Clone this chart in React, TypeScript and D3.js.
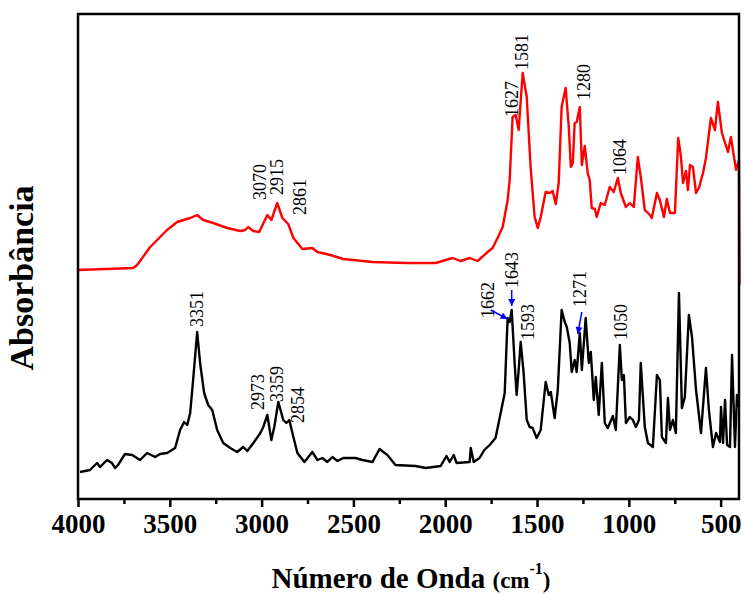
import React, { useEffect, useRef } from "react";
import * as d3 from "d3";

// espectro superior (vermelho): [número de onda, absorbância u.a.]
const redSpectrum: [number, number][] = [
  [4000, 0.458], [3700, 0.462], [3678, 0.468], [3607, 0.504], [3569, 0.518],
  [3515, 0.538], [3460, 0.554], [3389, 0.562], [3351, 0.568], [3318, 0.558],
  [3264, 0.552], [3187, 0.542], [3116, 0.536], [3089, 0.538], [3073, 0.544],
  [3045, 0.536], [3013, 0.534], [2969, 0.568], [2947, 0.558], [2915, 0.592],
  [2887, 0.562], [2855, 0.55], [2827, 0.522], [2778, 0.5], [2724, 0.502],
  [2696, 0.494], [2625, 0.488], [2555, 0.48], [2396, 0.474], [2216, 0.472],
  [2053, 0.472], [1960, 0.482], [1916, 0.476], [1867, 0.482], [1824, 0.476],
  [1769, 0.494], [1742, 0.502], [1715, 0.522], [1687, 0.544], [1660, 0.598],
  [1649, 0.638], [1633, 0.764], [1616, 0.768], [1600, 0.738], [1578, 0.852],
  [1556, 0.804], [1535, 0.664], [1513, 0.564], [1496, 0.542], [1480, 0.564],
  [1453, 0.614], [1431, 0.612], [1415, 0.616], [1398, 0.59], [1382, 0.632],
  [1366, 0.784], [1344, 0.822], [1327, 0.744], [1316, 0.664], [1305, 0.672],
  [1295, 0.752], [1284, 0.754], [1267, 0.784], [1256, 0.668], [1240, 0.706],
  [1224, 0.652], [1213, 0.638], [1202, 0.582], [1185, 0.58], [1175, 0.564],
  [1153, 0.592], [1131, 0.588], [1104, 0.624], [1082, 0.614], [1060, 0.642],
  [1044, 0.612], [1016, 0.584], [995, 0.592], [973, 0.584], [951, 0.684],
  [935, 0.644], [913, 0.578], [885, 0.568], [875, 0.562], [847, 0.612],
  [831, 0.598], [809, 0.564], [793, 0.6], [776, 0.572], [749, 0.572],
  [731, 0.722], [716, 0.684], [705, 0.632], [689, 0.656], [678, 0.618],
  [667, 0.668], [651, 0.664], [634, 0.612], [618, 0.622], [596, 0.652],
  [580, 0.682], [553, 0.762], [531, 0.738], [515, 0.794], [493, 0.732],
  [460, 0.694], [444, 0.724], [416, 0.658], [400, 0.678], [397, 0.428],
];

// espectro inferior (preto)
const blackSpectrum: [number, number][] = [
  [3989, 0.054], [3935, 0.058], [3896, 0.072], [3880, 0.064], [3842, 0.078],
  [3815, 0.072], [3798, 0.062], [3782, 0.068], [3744, 0.09], [3705, 0.088],
  [3662, 0.078], [3624, 0.092], [3580, 0.084], [3553, 0.09], [3515, 0.092],
  [3471, 0.102], [3444, 0.138], [3422, 0.154], [3405, 0.148], [3389, 0.172],
  [3373, 0.238], [3351, 0.334], [3335, 0.272], [3313, 0.212], [3291, 0.188],
  [3269, 0.178], [3242, 0.138], [3209, 0.112], [3171, 0.102], [3133, 0.094],
  [3100, 0.104], [3078, 0.096], [3045, 0.112], [3007, 0.132], [2991, 0.144],
  [2969, 0.168], [2947, 0.118], [2931, 0.144], [2909, 0.194], [2882, 0.158],
  [2865, 0.152], [2849, 0.158], [2827, 0.124], [2805, 0.092], [2767, 0.074],
  [2724, 0.094], [2696, 0.078], [2669, 0.082], [2642, 0.074], [2615, 0.084],
  [2587, 0.076], [2555, 0.082], [2489, 0.082], [2451, 0.078], [2396, 0.074],
  [2358, 0.1], [2315, 0.088], [2271, 0.068], [2162, 0.066], [2107, 0.062],
  [2025, 0.066], [1993, 0.086], [1976, 0.074], [1954, 0.088], [1938, 0.072],
  [1867, 0.074], [1861, 0.102], [1845, 0.074], [1813, 0.082], [1787, 0.098],
  [1758, 0.108], [1726, 0.122], [1698, 0.172], [1676, 0.212], [1665, 0.318],
  [1660, 0.362], [1649, 0.354], [1638, 0.378], [1622, 0.272], [1611, 0.208],
  [1600, 0.258], [1589, 0.314], [1573, 0.252], [1556, 0.158], [1540, 0.144],
  [1524, 0.142], [1502, 0.122], [1480, 0.138], [1453, 0.234], [1436, 0.208],
  [1425, 0.214], [1404, 0.162], [1387, 0.218], [1366, 0.378], [1349, 0.354],
  [1338, 0.344], [1322, 0.312], [1311, 0.254], [1295, 0.278], [1284, 0.254],
  [1267, 0.332], [1256, 0.258], [1235, 0.362], [1218, 0.272], [1207, 0.294],
  [1191, 0.198], [1180, 0.244], [1164, 0.168], [1147, 0.272], [1131, 0.152],
  [1115, 0.142], [1087, 0.166], [1071, 0.138], [1049, 0.308], [1038, 0.238],
  [1027, 0.248], [1016, 0.152], [995, 0.164], [978, 0.158], [962, 0.144],
  [945, 0.158], [935, 0.272], [913, 0.144], [896, 0.112], [869, 0.104],
  [847, 0.248], [831, 0.238], [820, 0.124], [798, 0.112], [787, 0.202],
  [776, 0.138], [760, 0.158], [744, 0.132], [727, 0.412], [711, 0.182],
  [695, 0.204], [673, 0.368], [656, 0.324], [634, 0.218], [607, 0.132],
  [580, 0.262], [564, 0.178], [542, 0.104], [525, 0.132], [504, 0.114],
  [498, 0.184], [487, 0.112], [476, 0.198], [465, 0.108], [449, 0.104],
  [438, 0.288], [422, 0.104], [411, 0.208], [400, 0.184],
];

const majorTicks = [4000, 3500, 3000, 2500, 2000, 1500, 1000, 500];
const minorTicks = [3750, 3250, 2750, 2250, 1750, 1250, 750];

// rótulos dos picos: texto, número de onda e altura onde começa o texto
const peakLabels: [string, number, number][] = [
  ["3070", 3007, 0.598], ["2915", 2915, 0.608], ["2861", 2789, 0.568],
  ["1627", 1638, 0.764], ["1581", 1584, 0.858], ["1280", 1245, 0.798],
  ["1064", 1049, 0.648],
  ["3351", 3351, 0.344], ["2973", 3018, 0.178], ["3359", 2915, 0.194],
  ["2854", 2805, 0.152], ["1662", 1769, 0.362], ["1643", 1638, 0.422],
  ["1593", 1551, 0.318], ["1271", 1267, 0.384], ["1050", 1044, 0.318],
];

// setas azuis: [wn início, abs início, wn ponta, abs ponta]
const arrows: [number, number, number, number][] = [
  [1638, 0.418, 1638, 0.386],
  [1753, 0.378, 1660, 0.36],
  [1256, 0.374, 1278, 0.33],
];

const width = 744;
const height = 595;
const left = 78;
const right = 739;
const top = 14;
const bottom = 499;
const font = "'Liberation Serif', 'Times New Roman', serif";

export default function App() {
  const axisRef = useRef<SVGGElement>(null);

  const x = d3.scaleLinear().domain([4000, 400]).range([left, right]);
  const y = d3.scaleLinear().domain([0, 0.97]).range([bottom, top]);

  const line = d3
    .line<[number, number]>()
    .x((d) => x(d[0]))
    .y((d) => y(d[1]));

  useEffect(() => {
    const g = d3.select(axisRef.current);
    g.selectAll("*").remove();
    const major = g.append("g").call(
      d3
        .axisBottom(x)
        .tickValues(majorTicks)
        .tickSize(8)
        .tickPadding(7)
        .tickFormat(d3.format("d"))
    );
    major.select(".domain").remove();
    major
      .selectAll("text")
      .attr("font-family", font)
      .attr("font-size", 27)
      .attr("font-weight", "bold")
      .attr("fill", "#000");
    major.selectAll("line").attr("stroke-width", 2.5);
    const minor = g
      .append("g")
      .call(d3.axisBottom(x).tickValues(minorTicks).tickSize(5).tickFormat(() => ""));
    minor.select(".domain").remove();
    minor.selectAll("line").attr("stroke-width", 2.5);
  }, []);

  return (
    <svg
      width={width}
      height={height}
      style={{ position: "absolute", left: 0, top: 0, background: "#fff" }}
    >
      <defs>
        <marker
          id="head"
          viewBox="0 0 10 10"
          refX="10"
          refY="5"
          markerWidth="8"
          markerHeight="7"
          markerUnits="userSpaceOnUse"
          orient="auto"
        >
          <path d="M0,0L10,5L0,10z" fill="#0000ff" />
        </marker>
      </defs>

      <path d={line(blackSpectrum) ?? ""} fill="none" stroke="#000" strokeWidth={2.4} strokeLinejoin="round" />
      <path d={line(redSpectrum) ?? ""} fill="none" stroke="#ff0000" strokeWidth={2.4} strokeLinejoin="round" />

      {peakLabels.map(([t, wn, a]) => (
        <text
          key={t + wn}
          transform={`translate(${x(wn)},${y(a)}) rotate(-90)`}
          dy="0.34em"
          fontFamily={font}
          fontSize={18}
          fill="#000"
        >
          {t}
        </text>
      ))}

      {arrows.map(([w0, a0, w1, a1], i) => (
        <line
          key={i}
          x1={x(w0)}
          y1={y(a0)}
          x2={x(w1)}
          y2={y(a1)}
          stroke="#0000ff"
          strokeWidth={1.5}
          markerEnd="url(#head)"
        />
      ))}

      <rect
        x={left}
        y={top}
        width={right - left}
        height={bottom - top}
        fill="none"
        stroke="#000"
        strokeWidth={2.5}
      />
      <g ref={axisRef} transform={`translate(0,${bottom})`} />

      <text
        transform={`translate(33,278) rotate(-90)`}
        textAnchor="middle"
        fontFamily={font}
        fontSize={34}
        fontWeight="bold"
      >
        Absorbância
      </text>
      <text x={411} y={588} textAnchor="middle" fontFamily={font} fontWeight="bold">
        <tspan fontSize={29}>Número de Onda </tspan>
        <tspan fontSize={23}>(cm</tspan>
        <tspan fontSize={16} dy={-14}>-1</tspan>
        <tspan fontSize={23} dy={14}>)</tspan>
      </text>
    </svg>
  );
}
